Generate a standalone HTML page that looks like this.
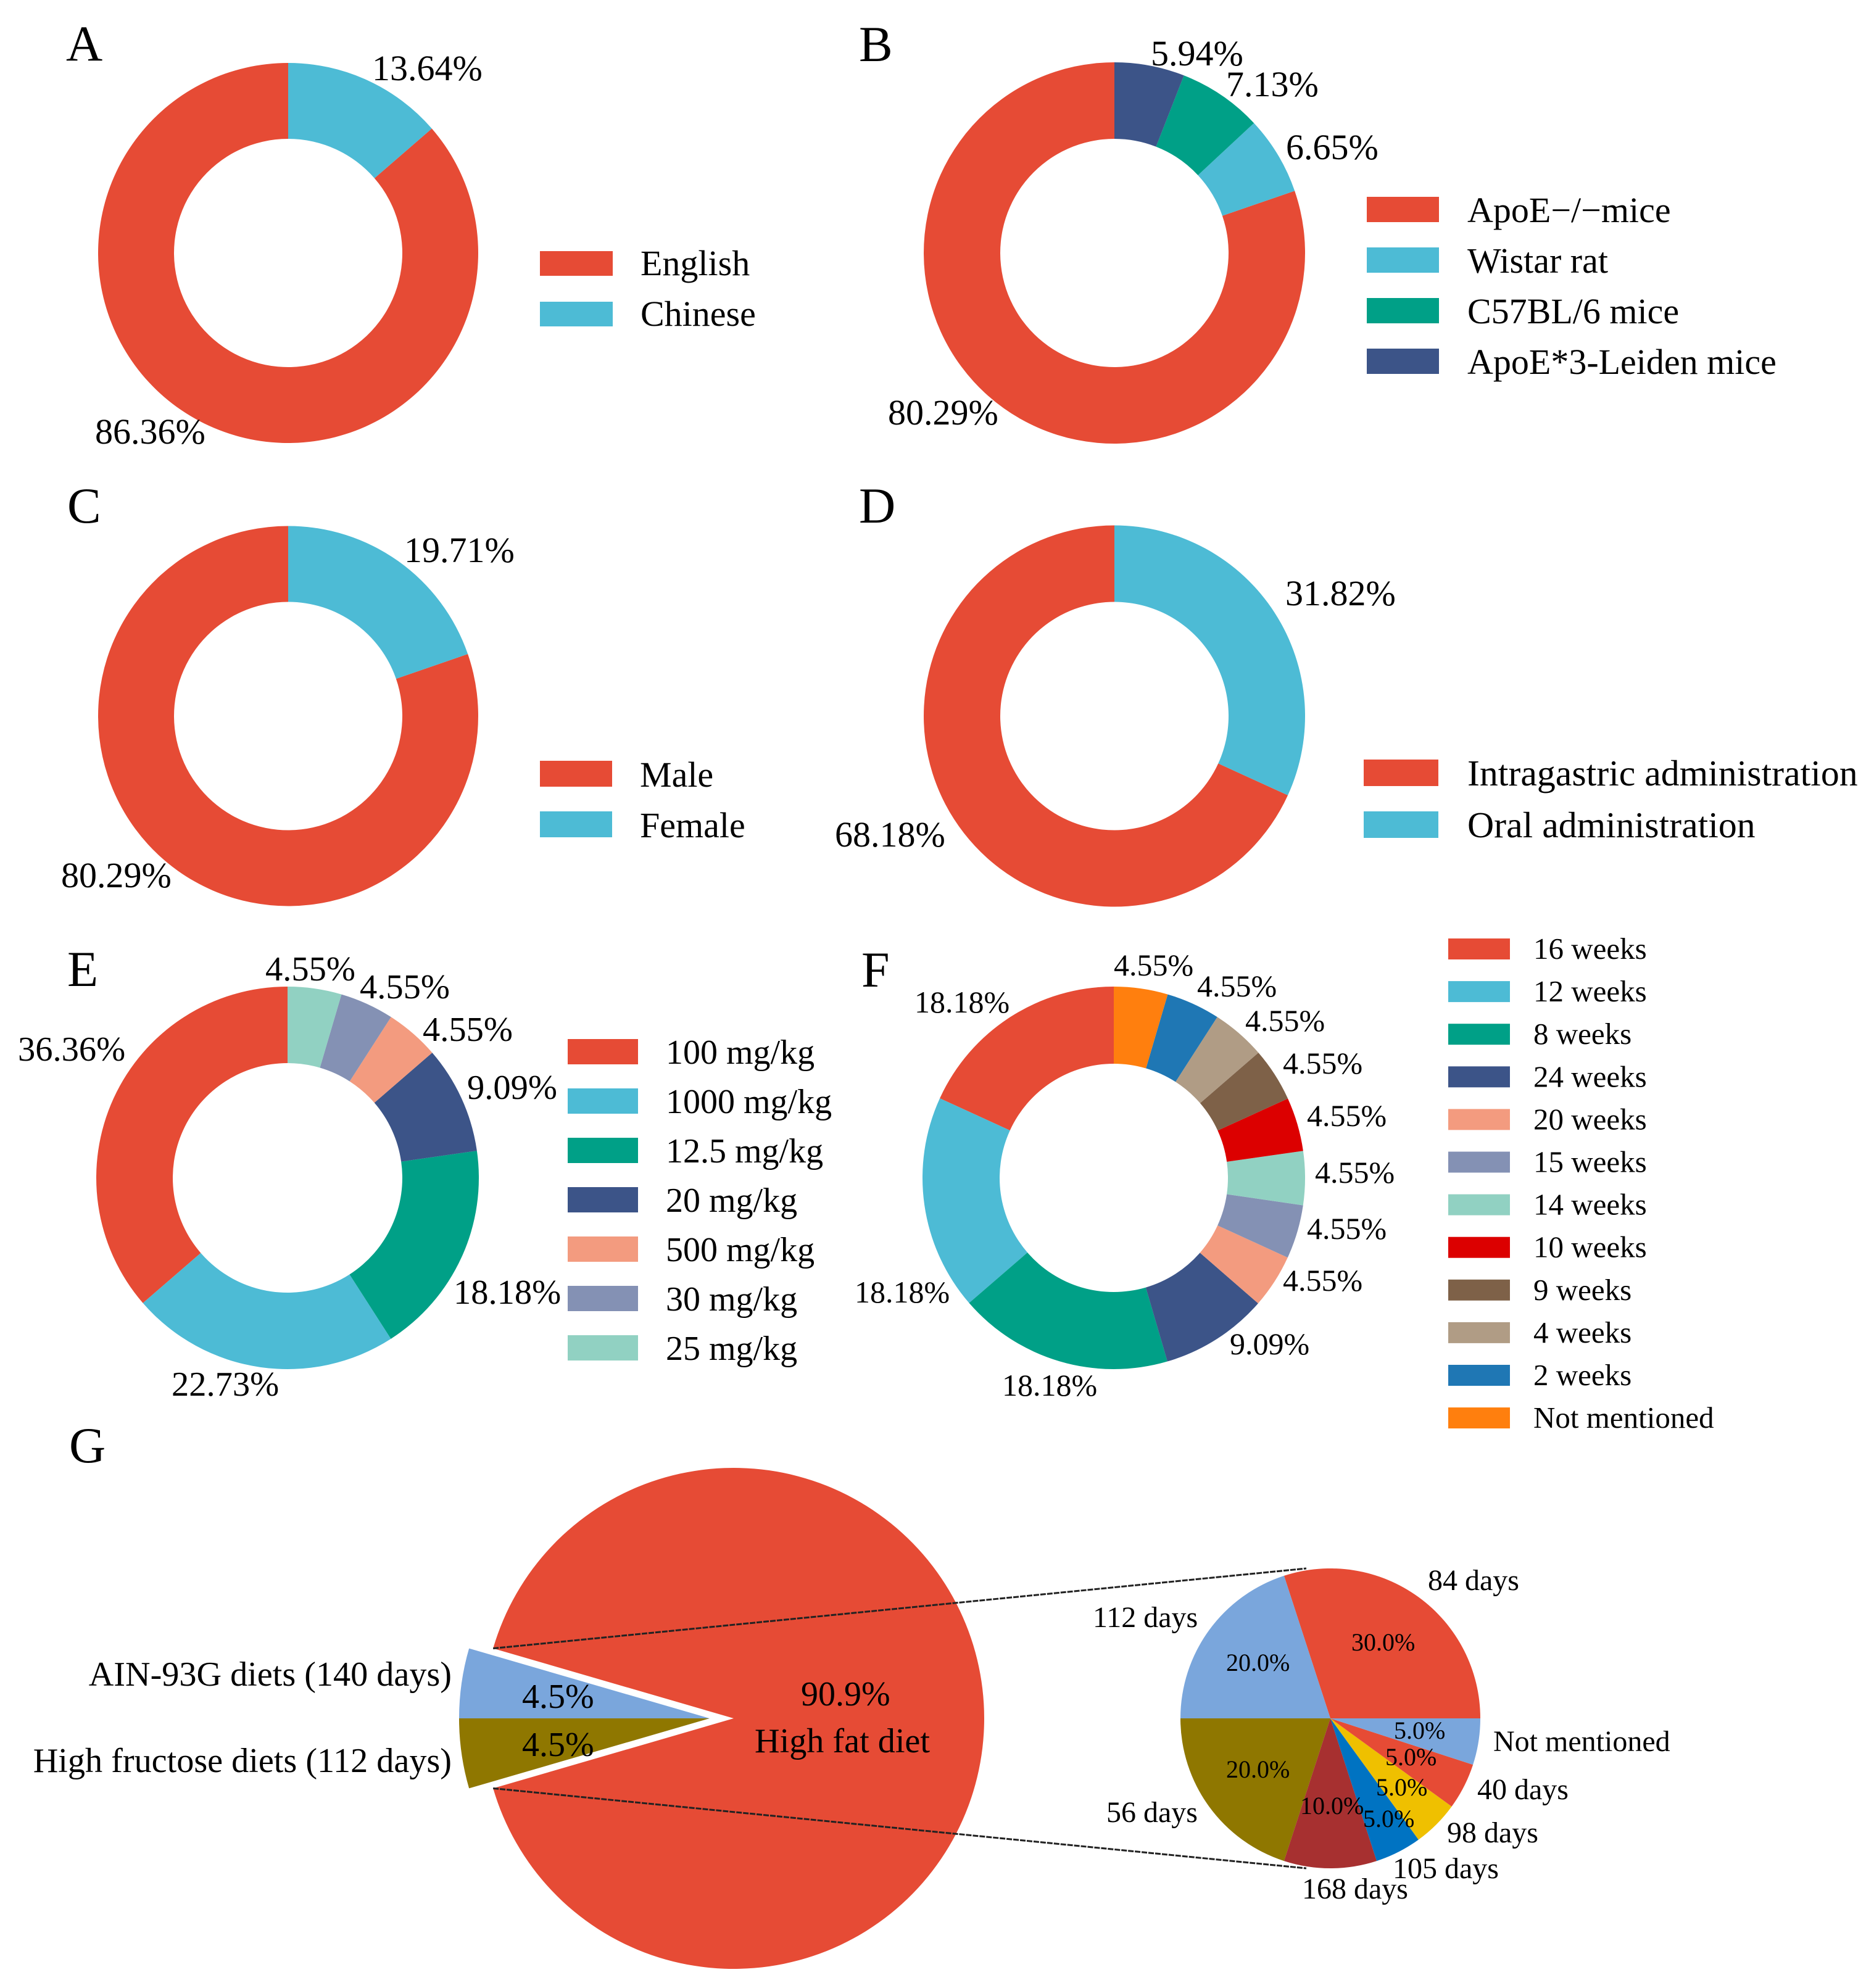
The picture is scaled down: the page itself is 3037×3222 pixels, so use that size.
<!DOCTYPE html>
<html lang="en">
<head>
<meta charset="utf-8">
<title>Study characteristics donut charts</title>
<style>
html,body{margin:0;padding:0;background:#fff;}
svg{display:block;}
text{font-family:"Liberation Serif","Times New Roman",serif;fill:#000;}
</style>
</head>
<body>
<svg id="figure" xmlns="http://www.w3.org/2000/svg" width="3037" height="3222" viewBox="0 0 3037 3222">
  <rect x="0" y="0" width="3037" height="3222" fill="#ffffff"/>
  <text x="107" y="98" font-size="82">A</text>
  <text x="1392" y="99" font-size="82">B</text>
  <text x="109" y="847" font-size="82">C</text>
  <text x="1392" y="847" font-size="82">D</text>
  <text x="109" y="1598" font-size="82">E</text>
  <text x="1396" y="1599" font-size="82">F</text>
  <text x="112" y="2370" font-size="82">G</text>
  <g id="charts"></g>
</svg>
<script>
/* ---------- DATA ---------- */
const languageCategories = ['English', 'Chinese'];
const languageValues = [86.36, 13.64];

const animalCategories = ['ApoE\u2212/\u2212mice', 'Wistar rat', 'C57BL/6 mice', 'ApoE*3-Leiden mice'];
const animalValues = [80.29, 6.65, 7.13, 5.94];

const sexCategories = ['Male', 'Female'];
const sexValues = [80.29, 19.71];

const routeCategories = ['Intragastric administration', 'Oral administration'];
const routeValues = [68.18, 31.82];

const doseCategories = ['100 mg/kg', '1000 mg/kg', '12.5 mg/kg', '20 mg/kg', '500 mg/kg', '30 mg/kg', '25 mg/kg'];
const doseValues = [36.36, 22.73, 18.18, 9.09, 4.55, 4.55, 4.55];

const durationCategories = ['16 weeks', '12 weeks', '8 weeks', '24 weeks', '20 weeks', '15 weeks', '14 weeks', '10 weeks', '9 weeks', '4 weeks', '2 weeks', 'Not mentioned'];
const durationValues = [18.18, 18.18, 18.18, 9.09, 4.55, 4.55, 4.55, 4.55, 4.55, 4.55, 4.55, 4.55];

const dietCategories = ['High fat diet', 'AIN-93G diets (140 days)', 'High fructose diets (112 days)'];
const dietValues = [90.9, 4.5, 4.5];

const highFatDayCategories = ['84 days', '112 days', '56 days', '168 days', '105 days', '98 days', '40 days', 'Not mentioned'];
const highFatDayValues = [30, 20, 20, 10, 5, 5, 5, 5];

/* ---------- COLOURS ---------- */
const donutColors = ['#E64B35', '#4DBBD5', '#00A087', '#3C5488', '#F39B7F', '#8491B4', '#91D1C2', '#DC0000', '#7E6148', '#B09C85', '#1F77B4', '#FF7F0E'];
const dietColors = ['#E64B35', '#7AA6DC', '#8F7700'];
const dayColors = ['#E64B35', '#7AA6DC', '#8F7700', '#A73030', '#0073C2', '#EFC000', '#E64B35', '#7AA6DC'];

/* ---------- LAYOUT (hand-placed label spots, kept apart from the data) ---------- */
const layoutLabelsA = [[154, 719], [603, 130]];
const layoutLabelsB = [[1439, 688], [2084, 258], [1987, 156], [1865, 106]];
const layoutLabelsC = [[99, 1438], [655, 911]];
const layoutLabelsD = [[1353, 1372], [2083, 981]];
const layoutLabelsE = [[29, 1719], [278, 2262], [735, 2113], [757, 1781], [685, 1687], [583, 1618], [430, 1589]];
const layoutLabelsF = [[1482, 1641], [1385, 2111], [1624, 2262], [1993, 2195], [2079, 2092], [2118, 2008], [2131, 1917], [2118, 1825], [2079, 1740], [2018, 1671], [1940, 1615], [1805, 1581]];
const layoutDayNames = [[2314, 2577], [1771, 2637], [1793, 2953], [2110, 3077], [2257, 3044], [2345, 2986], [2394, 2916], [2420, 2838]];
const layoutDayPercents = [[2190, 2675], [1987, 2708], [1987, 2881], [2107, 2940], [2209, 2961], [2230, 2910], [2245, 2861], [2259, 2818]];

const panels = [
  {key: 'a', cats: languageCategories, vals: languageValues, labels: layoutLabelsA, cx: 467, cy: 410, r: 308, ri: 185, labelSize: 58,
   legend: {x: 875, y: 407, w: 118, h: 40, step: 82, tx: 1038, by: 446, size: 58}},
  {key: 'b', cats: animalCategories, vals: animalValues, labels: layoutLabelsB, cx: 1806, cy: 410, r: 309, ri: 185, labelSize: 58,
   legend: {x: 2215, y: 319, w: 117, h: 41, step: 82, tx: 2378, by: 360, size: 58}},
  {key: 'c', cats: sexCategories, vals: sexValues, labels: layoutLabelsC, cx: 467, cy: 1160.5, r: 308, ri: 185, labelSize: 58,
   legend: {x: 875, y: 1233, w: 117, h: 42, step: 82, tx: 1037, by: 1275, size: 58}},
  {key: 'd', cats: routeCategories, vals: routeValues, labels: layoutLabelsD, cx: 1806, cy: 1160.5, r: 309, ri: 185, labelSize: 58,
   legend: {x: 2210, y: 1231, w: 121, h: 43, step: 84, tx: 2378, by: 1273, size: 59.8}},
  {key: 'e', cats: doseCategories, vals: doseValues, labels: layoutLabelsE, cx: 466, cy: 1909, r: 310, ri: 186, labelSize: 56.5,
   legend: {x: 920, y: 1684, w: 114, h: 41, step: 80, tx: 1079, by: 1724, size: 56}},
  {key: 'f', cats: durationCategories, vals: durationValues, labels: layoutLabelsF, cx: 1805, cy: 1909, r: 310, ri: 185, labelSize: 50,
   legend: {x: 2347, y: 1521, w: 100, h: 34, step: 69.1, tx: 2485, by: 1554, size: 49}}
];

const svgNS = 'http://www.w3.org/2000/svg';
const root = document.getElementById('charts');

function make(tag, parent) {
  const node = document.createElementNS(svgNS, tag);
  parent.appendChild(node);
  return node;
}
function slug(s) {
  return s.toLowerCase().replace(/[^a-z0-9]+/g, '-').replace(/^-|-$/g, '');
}
function total(vals) {
  return vals.reduce((a, b) => a + b, 0);
}
/* angle axis: degrees measured counter-clockwise from east */
function angleScale(value, sum) {
  return value / sum * 360;
}
function point(cx, cy, r, deg) {
  const t = deg * Math.PI / 180;
  return [cx + r * Math.cos(t), cy - r * Math.sin(t)];
}
function slicePath(cx, cy, r, ri, a0, a1) {
  const large = (a1 - a0) > 180 ? 1 : 0;
  const p0 = point(cx, cy, r, a0);
  const p1 = point(cx, cy, r, a1);
  if (ri <= 0) {
    return 'M' + cx + ' ' + cy + 'L' + p0[0] + ' ' + p0[1] + 'A' + r + ' ' + r + ' 0 ' + large + ' 0 ' + p1[0] + ' ' + p1[1] + 'Z';
  }
  const p2 = point(cx, cy, ri, a1);
  const p3 = point(cx, cy, ri, a0);
  return 'M' + p0[0] + ' ' + p0[1] + 'A' + r + ' ' + r + ' 0 ' + large + ' 0 ' + p1[0] + ' ' + p1[1] +
         'L' + p2[0] + ' ' + p2[1] + 'A' + ri + ' ' + ri + ' 0 ' + large + ' 1 ' + p3[0] + ' ' + p3[1] + 'Z';
}
function drawText(parent, str, x, y, size, anchor) {
  const t = make('text', parent);
  t.setAttribute('x', x);
  t.setAttribute('y', y);
  t.setAttribute('font-size', size);
  if (anchor) t.setAttribute('text-anchor', anchor);
  t.textContent = str;
  return t;
}

/* ---------- DONUT PANELS A-F ---------- */
panels.forEach(function (p) {
  const group = make('g', root);
  
  

  const sum = total(p.vals);
  let angle = 90;
  p.vals.forEach(function (v, i) {
    const sweep = angleScale(v, sum);
    const wedge = make('path', group);
    
    
    wedge.setAttribute('d', slicePath(p.cx, p.cy, p.r, p.ri, angle, angle + sweep));
    wedge.setAttribute('fill', donutColors[i]);
    angle += sweep;
  });

  p.vals.forEach(function (v, i) {
    const spot = p.labels[i];
    const label = drawText(group, v.toFixed(2) + '%', spot[0], spot[1], p.labelSize);
    
    
  });

  const lg = p.legend;
  p.cats.forEach(function (c, i) {
    const swatch = make('rect', group);
    
    
    swatch.setAttribute('x', lg.x);
    swatch.setAttribute('y', lg.y + i * lg.step);
    swatch.setAttribute('width', lg.w);
    swatch.setAttribute('height', lg.h);
    swatch.setAttribute('fill', donutColors[i]);
    const entry = drawText(group, c, lg.tx, lg.by + i * lg.step, lg.size);
    
    
  });
});

/* ---------- PANEL G: MAIN PIE ---------- */
const gMain = {cx: 1189, cy: 2785, r: 406, pull: 39};
const gSub = {cx: 2156, cy: 2785, r: 243};
const gGroup = make('g', root);



const dietSum = total(dietValues);
const redSweep = angleScale(dietValues[0], dietSum);
let dietAngle = -redSweep / 2;
dietValues.forEach(function (v, i) {
  const sweep = angleScale(v, dietSum);
  const apexX = i === 0 ? gMain.cx : gMain.cx - gMain.pull;
  const wedge = make('path', gGroup);
  
  
  wedge.setAttribute('d', slicePath(apexX, gMain.cy, gMain.r, 0, dietAngle, dietAngle + sweep));
  wedge.setAttribute('fill', dietColors[i]);
  dietAngle += sweep;
});

/* connector lines from the exploded-out main slice to the detail pie */
const connectTop = point(gMain.cx, gMain.cy, gMain.r, redSweep / 2);
const connectBottom = point(gMain.cx, gMain.cy, gMain.r, -redSweep / 2);
[[connectTop, -1, 'connector-line-top'], [connectBottom, 1, 'connector-line-bottom']].forEach(function (c) {
  const line = make('line', gGroup);
  
  
  line.setAttribute('x1', c[0][0]);
  line.setAttribute('y1', c[0][1]);
  line.setAttribute('x2', gSub.cx - 39);
  line.setAttribute('y2', gSub.cy + c[1] * gSub.r);
  line.setAttribute('stroke', '#222222');
  line.setAttribute('stroke-width', '3');
  line.setAttribute('stroke-dasharray', '9 2');
});

const dietPercentSpots = [[1298, 2764], [846, 2768], [846, 2846]];
const dietNameSpots = [[1223, 2840, 'start'], [732, 2732, 'end'], [732, 2872, 'end']];
dietValues.forEach(function (v, i) {
  const pct = drawText(gGroup, v.toFixed(1) + '%', dietPercentSpots[i][0], dietPercentSpots[i][1], 56);
  
  
  const name = drawText(gGroup, dietCategories[i], dietNameSpots[i][0], dietNameSpots[i][1], 56.2, dietNameSpots[i][2]);
  
  
});

/* ---------- PANEL G: DETAIL PIE ---------- */
const subGroup = make('g', root);



const daySum = total(highFatDayValues);
let dayAngle = 0;
highFatDayValues.forEach(function (v, i) {
  const sweep = angleScale(v, daySum);
  const wedge = make('path', subGroup);
  
  
  wedge.setAttribute('d', slicePath(gSub.cx, gSub.cy, gSub.r, 0, dayAngle, dayAngle + sweep));
  wedge.setAttribute('fill', dayColors[i]);
  dayAngle += sweep;
});
highFatDayValues.forEach(function (v, i) {
  const pct = drawText(subGroup, v.toFixed(1) + '%', layoutDayPercents[i][0], layoutDayPercents[i][1], 40);
  
  
  const name = drawText(subGroup, highFatDayCategories[i], layoutDayNames[i][0], layoutDayNames[i][1], 48);
  
  
});
</script>
</body>
</html>
